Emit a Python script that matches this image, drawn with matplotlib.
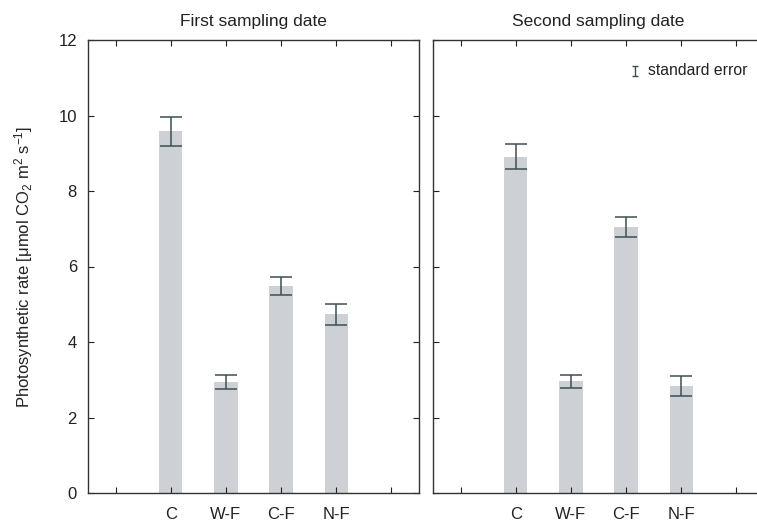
import matplotlib
matplotlib.use("Agg")
import matplotlib.pyplot as plt

plt.rcParams['font.family'] = ['Liberation Sans', 'DejaVu Sans']
plt.rcParams['mathtext.fontset'] = 'custom'
plt.rcParams['mathtext.rm'] = 'Liberation Sans'
plt.rcParams['mathtext.it'] = 'Liberation Sans'

# Data
treatments = ['C', 'W-F', 'C-F', 'N-F']
first_mean = [9.58, 2.94, 5.48, 4.73]
first_se = [0.38, 0.18, 0.23, 0.28]
second_mean = [8.91, 2.96, 7.04, 2.84]
second_se = [0.33, 0.17, 0.27, 0.26]
titles = ['First sampling date', 'Second sampling date']

bar_color = '#cdd0d4'
err_color = '#3d4f52'
xpos = [1, 2, 3, 4]

fig = plt.figure(figsize=(7.57, 5.22), dpi=100)
# right panel runs off the edge of the picture, like the original
ax1 = fig.add_axes([88 / 757, 29 / 522, 331 / 757, 453 / 522])
ax2 = fig.add_axes([433 / 757, 29 / 522, 331 / 757, 453 / 522])

for ax, means, ses, title in [(ax1, first_mean, first_se, titles[0]),
                              (ax2, second_mean, second_se, titles[1])]:
    ax.bar(xpos, means, width=0.42, color=bar_color, zorder=1)
    ax.errorbar(xpos, means, yerr=ses, fmt='none', ecolor=err_color,
                elinewidth=1.1, capsize=8.2, capthick=1.1, zorder=2)
    ax.set_xlim(-0.5, 5.5)
    ax.set_ylim(0, 12)
    ax.set_xticks(range(6))
    ax.set_xticklabels([''] + treatments + [''], fontsize=12)
    ax.set_yticks(range(0, 13, 2))
    ax.tick_params(direction='in', length=4, width=0.8, top=True, right=True,
                   labelsize=12, colors='#222222')
    ax.tick_params(axis='x', pad=10)
    ax.tick_params(axis='y', pad=8)
    for s in ax.spines.values():
        s.set_linewidth(1.0)
        s.set_color('#333333')
    ax.set_title(title, fontsize=12.5, pad=10, color='#222222')

ax2.tick_params(labelleft=False)
ax1.set_ylabel('Photosynthetic rate [μmol CO$_2$ m$^2$ s$^{-1}$]',
               fontsize=12, color='#222222', labelpad=17)

# "standard error" key
ax2.errorbar([3.17], [11.18], yerr=[0.13], fmt='none', ecolor=err_color,
             elinewidth=1.0, capsize=2.5, capthick=1.0)
ax2.text(3.39, 11.2, 'standard error', fontsize=11.3, va='center', ha='left',
         color='#222222')

plt.savefig('out.png', dpi=100)
